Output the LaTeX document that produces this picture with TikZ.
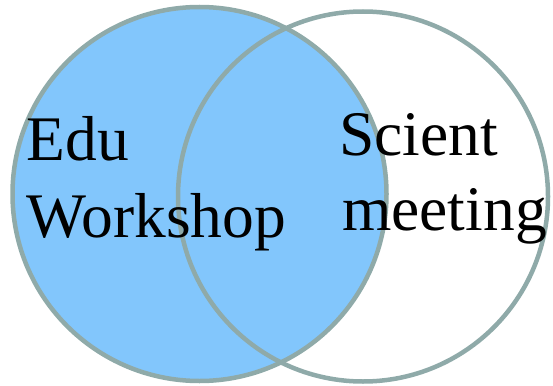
\documentclass[tikz,border=0pt]{standalone}
\usepackage{fontspec}
\setmainfont{Liberation Serif}
\definecolor{ringcol}{RGB}{143,170,169}
\definecolor{setfill}{RGB}{130,198,252}
\tikzset{
  ring/.style={draw=ringcol, line width=4.5pt},
  label/.style={anchor=base west, inner sep=0pt, font=\fontsize{63.5}{77}\selectfont, text=black}
}
\begin{document}
\begin{tikzpicture}[x=1pt,y=-1pt]
\useasboundingbox (0,0) rectangle (553,385);
\fill[setfill] (199.5,194) circle (187);
\draw[ring] (363,196.5) circle (185);
\draw[ring] (199.5,194) circle (187);
\node[label] (edu) at (26.5,160) {Edu};
\node[label] (workshop) at (26.5,237) {Workshop};
\node[label] (scient) at (339,155) {Scient};
\node[label] (meeting) at (342,230) {meeting};
\end{tikzpicture}
\end{document}
